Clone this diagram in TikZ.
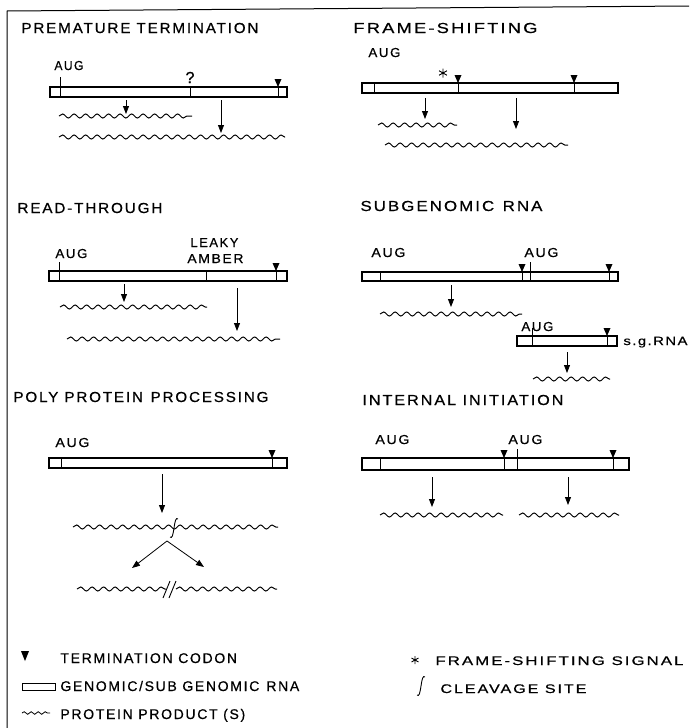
\documentclass[tikz,border=0pt]{standalone}
\usepackage{fontspec}
\usepackage{graphicx}
\setmainfont[FakeBold=0.6]{Liberation Sans}
\usetikzlibrary{decorations.pathmorphing,arrows.meta}
\newcommand\fitw[2]{\resizebox{#1}{\height}{#2}}
\begin{document}
\begin{tikzpicture}[x=1pt,y=-1pt,line width=0.9pt,
  wavy/.style={decorate,decoration={snake,segment length=11.5pt,amplitude=2pt},line width=1pt},
  rna/.style={draw,line width=1.1pt},
  arr/.style={-{Triangle[length=8pt,width=6pt]},line width=0.8pt},
  ttl/.style={anchor=base west,inner sep=0pt,font=\fontsize{14.5}{15}\selectfont\addfontfeature{LetterSpace=12}},
  lbl/.style={anchor=base west,inner sep=0pt,font=\fontsize{13}{13}\selectfont\addfontfeature{LetterSpace=12}},
  leg/.style={anchor=base west,inner sep=0pt,font=\fontsize{14}{14}\selectfont\addfontfeature{LetterSpace=12}},
  legs/.style={anchor=base west,inner sep=0pt,font=\fontsize{12.5}{13}\selectfont\addfontfeature{LetterSpace=12}},
  stopcodon/.pic={\fill (-3.5,-8)--(3.5,-8)--(0,0)--cycle; \draw[line width=0.8pt] (0,0)--(0,#1);},
  cleave/.pic={\draw[line width=0.9pt] (-4,9) .. controls (-2,11) and (-1,7) .. (0,0) .. controls (1,-7) and (2,-11) .. (4,-9);},
  star/.pic={\draw[line width=0.9pt] (0,-#1)--(0,#1) (-0.87*#1,-0.5*#1)--(0.87*#1,0.5*#1) (-0.87*#1,0.5*#1)--(0.87*#1,-0.5*#1);}
]
\useasboundingbox (0,0) rectangle (689,728);
% frame
\draw[line width=1pt] (7,728) -- (7,11) -- (689,6);

% ---------- Panel 1: premature termination
\node[ttl] (t1) at (21,33) {\fitw{237pt}{PREMATURE TERMINATION}};
\node[lbl] (aug1) at (54,70) {\fitw{29pt}{AUG}};
\node[anchor=base,inner sep=0pt,font=\fontsize{16}{16}\selectfont] (q1) at (190,83) {?};
\draw[rna] (50,87) rectangle (287,97);
\draw (60,77) -- (60,97);
\draw (190,87) -- (190,97);
\draw (278,87) -- (278,97);
\pic at (278,87) {stopcodon=10};
\coordinate (p1a) at (126,100); \coordinate (p1b) at (126,114);
\coordinate (p1c) at (221,100); \coordinate (p1d) at (221,133);
\draw[arr] (p1a) -- (p1b);
\draw[arr] (p1c) -- (p1d);
\draw[wavy] (59,116) -- (192,116);
\draw[wavy] (59,137) -- (285,137);

% ---------- Panel 2: frame-shifting
\node[ttl] (t2) at (353,33) {\fitw{184pt}{FRAME-SHIFTING}};
\node[lbl] (aug2) at (368,57) {\fitw{32pt}{AUG}};
\pic at (443,73) {star=4.5};
\draw[rna] (362,83) rectangle (618,93);
\draw (374,83) -- (374,93);
\pic at (458,83) {stopcodon=10};
\pic at (574,83) {stopcodon=10};
\coordinate (p2a) at (425,98); \coordinate (p2b) at (425,119);
\coordinate (p2c) at (516,98); \coordinate (p2d) at (516,129);
\draw[arr] (p2a) -- (p2b);
\draw[arr] (p2c) -- (p2d);
\draw[wavy] (378,125) -- (457,125);
\draw[wavy] (385,145) -- (568,145);

% ---------- Panel 3: read-through
\node[ttl] (t3) at (17,213) {\fitw{145pt}{READ-THROUGH}};
\node[lbl] (aug3) at (55,258) {\fitw{32pt}{AUG}};
\node[lbl] (leaky) at (190,247) {\fitw{48pt}{LEAKY}};
\node[lbl] (amber) at (187,263) {\fitw{56pt}{AMBER}};
\draw[rna] (49,271) rectangle (287,281);
\draw (59,262) -- (59,281);
\draw (206,271) -- (206,281);
\pic at (276,271) {stopcodon=10};
\coordinate (p3a) at (124,284); \coordinate (p3b) at (124,302);
\coordinate (p3c) at (237,288); \coordinate (p3d) at (237,331);
\draw[arr] (p3a) -- (p3b);
\draw[arr] (p3c) -- (p3d);
\draw[wavy] (60,307) -- (207,307);
\draw[wavy] (67,339) -- (280,339);

% ---------- Panel 4: polyprotein processing
\node[ttl] (t4) at (13,402) {\fitw{255pt}{POLY PROTEIN\enspace PROCESSING}};
\node[lbl] (aug4) at (55,447) {\fitw{34pt}{AUG}};
\draw[rna] (49,458) rectangle (287,468);
\draw (61,458) -- (61,468);
\pic at (272,458) {stopcodon=10};
\coordinate (p4a) at (162,474); \coordinate (p4b) at (162,513);
\draw[arr] (p4a) -- (p4b);
\draw[wavy] (73,527) -- (278,527);
\pic at (174,528) {cleave};
\coordinate (p4s) at (167,541);
\coordinate (p4l) at (132,568);
\coordinate (p4r) at (204,567);
\draw[arr] (p4s) -- (p4l);
\draw[arr] (p4s) -- (p4r);
\draw[wavy] (77,589) -- (166,589);
\draw[wavy] (176,589) -- (277,589);
\draw (163,598) -- (170,581);
\draw (169,598) -- (176,581);

% ---------- Panel 5: subgenomic RNA
\node[ttl] (t5) at (360,211) {\fitw{182pt}{SUBGENOMIC\enspace RNA}};
\node[lbl] (aug5a) at (371,257) {\fitw{34pt}{AUG}};
\node[lbl] (aug5b) at (524,257) {\fitw{34pt}{AUG}};
\draw[rna] (362,272) rectangle (618,281);
\draw (380,272) -- (380,281);
\pic at (522,272) {stopcodon=9};
\draw (530,262) -- (530,281);
\pic at (609,272) {stopcodon=9};
\coordinate (p5a) at (451,285); \coordinate (p5b) at (451,307);
\draw[arr] (p5a) -- (p5b);
\draw[wavy] (380,314) -- (522,314);
\node[lbl] (aug5c) at (521,331) {\fitw{32pt}{AUG}};
\draw[rna] (517,336) rectangle (617,346);
\draw (532,328) -- (532,346);
\pic at (607,336) {stopcodon=10};
\node[anchor=base west,inner sep=0pt,font=\fontsize{12}{12}\selectfont\addfontfeature{LetterSpace=10}] (sg) at (623,345) {\fitw{64pt}{s.g.RNA}};
\coordinate (p5c) at (567,352); \coordinate (p5d) at (567,373);
\draw[arr] (p5c) -- (p5d);
\draw[wavy] (533,379) -- (610,379);

% ---------- Panel 6: internal initiation
\node[ttl] (t6) at (362,405) {\fitw{201pt}{INTERNAL INITIATION}};
\node[lbl] (aug6a) at (375,444) {\fitw{34pt}{AUG}};
\node[lbl] (aug6b) at (508,444) {\fitw{34pt}{AUG}};
\draw[rna] (362,458) rectangle (629,470);
\draw (380,458) -- (380,470);
\pic at (504,458) {stopcodon=12};
\draw (517,449) -- (517,470);
\pic at (613,458) {stopcodon=12};
\coordinate (p6a) at (432,477); \coordinate (p6b) at (432,507);
\coordinate (p6c) at (568,477); \coordinate (p6d) at (568,505);
\draw[arr] (p6a) -- (p6b);
\draw[arr] (p6c) -- (p6d);
\draw[wavy] (380,515) -- (503,515);
\draw[wavy] (519,515) -- (619,515);

% ---------- Legend
\fill (21,651) -- (29,651) -- (25,661) -- cycle;
\node[leg] (l1) at (60,663) {TERMINATION CODON};
\draw[line width=1pt] (22,683) rectangle (55,690);
\node[leg] (l2) at (60,691) {GENOMIC/SUB GENOMIC\enspace RNA};
\draw[decorate,decoration={snake,segment length=7pt,amplitude=1.3pt},line width=0.8pt] (22,713) -- (50,713);
\node[leg] (l3) at (60,719) {PROTEIN PRODUCT (S)};
\pic at (415,660) {star=4};
\node[legs] (l4) at (435,665) {\fitw{248pt}{FRAME-SHIFTING SIGNAL}};
\pic at (421,686) {cleave};
\node[legs] (l5) at (440,693) {\fitw{146pt}{CLEAVAGE SITE}};
\end{tikzpicture}
\end{document}
